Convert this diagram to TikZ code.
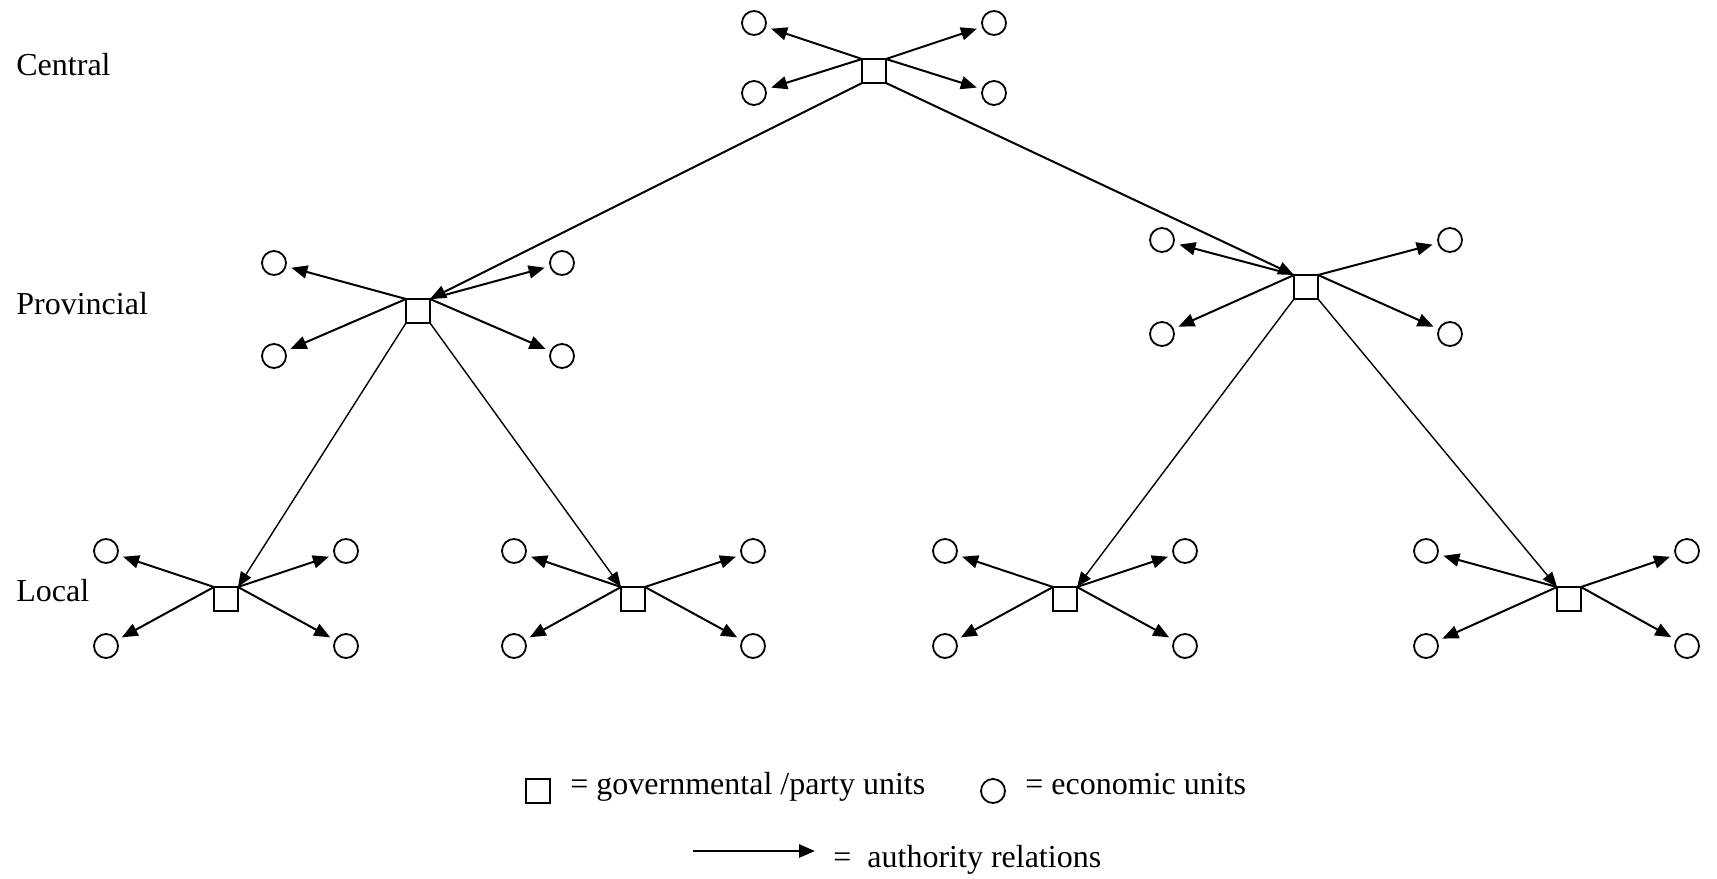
\documentclass[tikz,border=0pt]{standalone}
\usepackage{fontspec}
\setmainfont{Liberation Serif}
\usepackage{tikz}
\usetikzlibrary{arrows.meta}

\begin{document}
\begin{tikzpicture}[x=0.5pt,y=-0.5pt,
    font=\fontsize{16}{19}\selectfont,
    gov/.style={draw,rectangle,minimum size=12pt,inner sep=0pt,outer sep=0pt,line width=0.9pt},
    eco/.style={draw,circle,minimum size=12pt,inner sep=0pt,outer sep=3pt,line width=0.9pt},
    rel/.style={line width=1pt,-{Triangle[length=8pt,width=6.5pt]}},
    down/.style={line width=0.7pt,-{Triangle[length=7.5pt,width=6pt]}},
    txt/.style={anchor=base west,inner sep=0pt}]
    \useasboundingbox (0,0) rectangle (1717,878);
    % levels
    \node[txt] (central) at (16,75) {Central};
    \node[txt] (provincial) at (16,314) {Provincial};
    \node[txt] (local) at (16,601) {Local};
    % governmental / party units
    \node[gov] (C) at (874,71) {};
    \node[gov] (P1) at (418,311) {};
    \node[gov] (P2) at (1306,287) {};
    \node[gov] (L1) at (226,599) {};
    \node[gov] (L2) at (633,599) {};
    \node[gov] (L3) at (1065,599) {};
    \node[gov] (L4) at (1569,599) {};
    % economic units
    \node[eco] (C1) at (754,23) {};
    \node[eco] (C2) at (994,23) {};
    \node[eco] (C3) at (754,93) {};
    \node[eco] (C4) at (994,93) {};
    \node[eco] (P11) at (274,263) {};
    \node[eco] (P12) at (562,263) {};
    \node[eco] (P13) at (274,356) {};
    \node[eco] (P14) at (562,356) {};
    \node[eco] (P21) at (1162,240) {};
    \node[eco] (P22) at (1450,240) {};
    \node[eco] (P23) at (1162,334) {};
    \node[eco] (P24) at (1450,334) {};
    \node[eco] (L11) at (106,551) {};
    \node[eco] (L12) at (346,551) {};
    \node[eco] (L13) at (106,646) {};
    \node[eco] (L14) at (346,646) {};
    \node[eco] (L21) at (514,551) {};
    \node[eco] (L22) at (753,551) {};
    \node[eco] (L23) at (514,646) {};
    \node[eco] (L24) at (753,646) {};
    \node[eco] (L31) at (945,551) {};
    \node[eco] (L32) at (1185,551) {};
    \node[eco] (L33) at (945,646) {};
    \node[eco] (L34) at (1185,646) {};
    \node[eco] (L41) at (1426,551) {};
    \node[eco] (L42) at (1687,551) {};
    \node[eco] (L43) at (1426,646) {};
    \node[eco] (L44) at (1687,646) {};
    % authority over economic units
    \draw[rel] (C.north west) -- (C1);
    \draw[rel] (C.north east) -- (C2);
    \draw[rel] (C.north west) -- (C3);
    \draw[rel] (C.north east) -- (C4);
    \draw[rel] (P1.north west) -- (P11);
    \draw[rel] (P1.north east) -- (P12);
    \draw[rel] (P1.north west) -- (P13);
    \draw[rel] (P1.north east) -- (P14);
    \draw[rel] (P2.north west) -- (P21);
    \draw[rel] (P2.north east) -- (P22);
    \draw[rel] (P2.north west) -- (P23);
    \draw[rel] (P2.north east) -- (P24);
    \draw[rel] (L1.north west) -- (L11);
    \draw[rel] (L1.north east) -- (L12);
    \draw[rel] (L1.north west) -- (L13);
    \draw[rel] (L1.north east) -- (L14);
    \draw[rel] (L2.north west) -- (L21);
    \draw[rel] (L2.north east) -- (L22);
    \draw[rel] (L2.north west) -- (L23);
    \draw[rel] (L2.north east) -- (L24);
    \draw[rel] (L3.north west) -- (L31);
    \draw[rel] (L3.north east) -- (L32);
    \draw[rel] (L3.north west) -- (L33);
    \draw[rel] (L3.north east) -- (L34);
    \draw[rel] (L4.north west) -- (L41);
    \draw[rel] (L4.north east) -- (L42);
    \draw[rel] (L4.north west) -- (L43);
    \draw[rel] (L4.north east) -- (L44);
    % authority down the hierarchy
    \draw[rel] (C.south west) -- (P1.north east);
    \draw[rel] (C.south east) -- (P2.north west);
    \draw[down] (P1.south west) -- (L1.north east);
    \draw[down] (P1.south east) -- (L2.north west);
    \draw[down] (P2.south west) -- (L3.north east);
    \draw[down] (P2.south east) -- (L4.north west);
    % key
    \node[gov] (keygov) at (538,791) {};
    \node[txt] (keygovtext) at (570,794) {= governmental /party units};
    \node[eco,outer sep=0pt] (keyeco) at (993,791) {};
    \node[txt] (keyecotext) at (1025,794) {= economic units};
    \coordinate (keyfrom) at (693,851);
    \coordinate (keyto) at (815,851);
    \draw[rel,line width=1.4pt] (keyfrom) -- (keyto);
    \node[txt] (keyreltext) at (833,867) {=\ \ authority relations};
  \end{tikzpicture}
\end{document}
